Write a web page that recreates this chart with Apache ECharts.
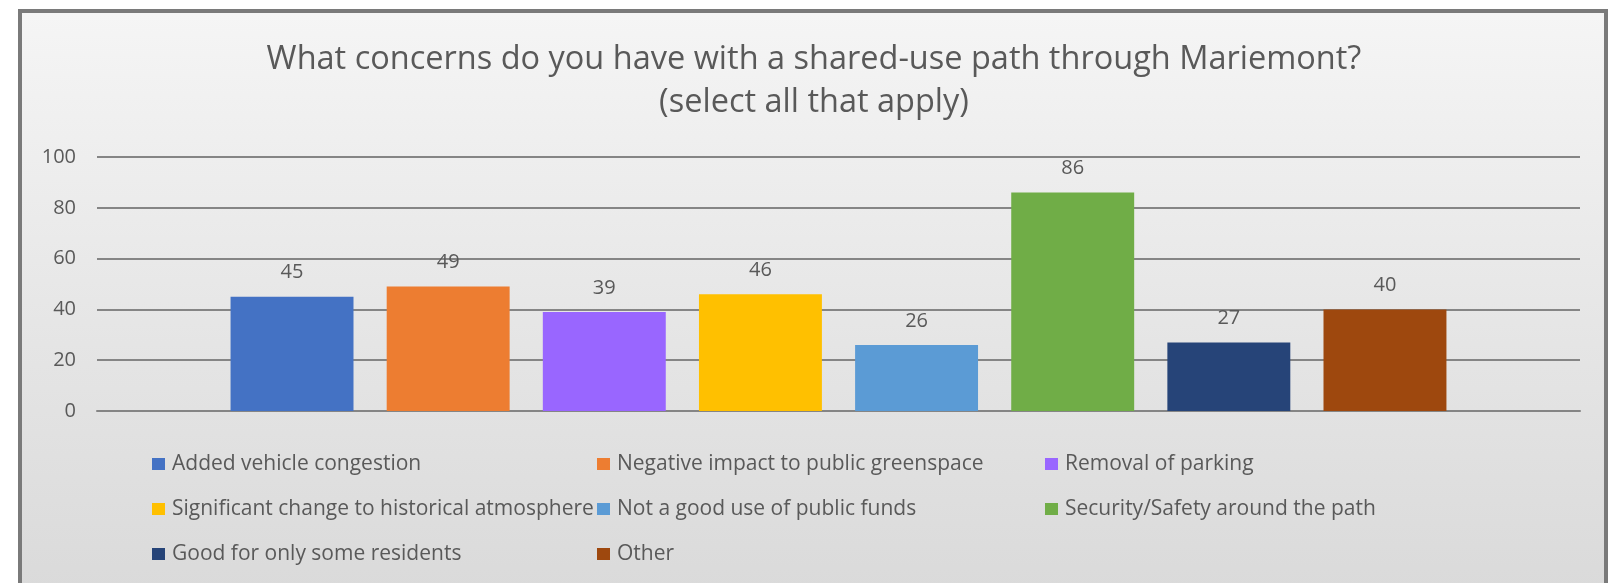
<!DOCTYPE html>
<html>
<head>
<meta charset="utf-8">
<script src="https://cdn.jsdelivr.net/npm/echarts@6/dist/echarts.min.js"></script>
<style>
  html, body { margin: 0; padding: 0; background: #ffffff; }
  #frame {
    position: absolute; left: 18px; top: 9px; width: 1582px; height: 600px;
    border: 4px solid #7a7a7a;
    background: linear-gradient(to bottom, #f5f5f5 0%, #e5e5e5 55%, #d9d9d9 100%);
  }
  #chart { position: absolute; left: 0; top: 0; width: 1610px; height: 583px; }
</style>
</head>
<body>
<div id="frame"></div>
<div id="chart"></div>
<script>
const titleText = 'What concerns do you have with a shared-use path through Mariemont?\n(select all that apply)';
const seriesNames = [
  'Added vehicle congestion',
  'Negative impact to public greenspace',
  'Removal of parking',
  'Significant change to historical atmosphere',
  'Not a good use of public funds',
  'Security/Safety around the path',
  'Good for only some residents',
  'Other'
];
const seriesValues = [45, 49, 39, 46, 26, 86, 27, 40];
const seriesColors = ['#4472C4', '#ED7D31', '#9966FF', '#FFC000', '#5B9BD5', '#70AD47', '#264478', '#9E480E'];
const yTicks = [0, 20, 40, 60, 80, 100];

const legendColumns = [
  [seriesNames[0], seriesNames[3], seriesNames[6]],
  [seriesNames[1], seriesNames[4], seriesNames[7]],
  [seriesNames[2], seriesNames[5]]
];
const legendLefts = [152, 597, 1045];

const FONT = "'Open Sans', sans-serif";
const chart = echarts.init(document.getElementById('chart'), null, { renderer: 'canvas' });

const option = {
  backgroundColor: 'transparent',
  animation: false,
  title: {
    text: titleText,
    left: 814,
    top: 38,
    textAlign: 'center',
    padding: 0,
    textStyle: { fontFamily: FONT, fontSize: 32.5, fontWeight: 'normal', color: '#595959', lineHeight: 43 }
  },
  legend: legendColumns.map((col, i) => ({
    data: col,
    orient: 'vertical',
    left: legendLefts[i],
    top: 452,
    padding: 0,
    icon: 'rect',
    itemWidth: 13,
    itemHeight: 12,
    itemGap: 21,
    textStyle: { fontFamily: FONT, fontSize: 21, color: '#595959', lineHeight: 24, padding: [0, 0, 0, 2] }
  })),
  grid: { left: 97, right: 30, top: 157, bottom: 172 },
  xAxis: {
    type: 'category',
    data: [''],
    axisLine: { show: true, lineStyle: { color: '#858585', width: 2 } },
    axisTick: { show: false },
    axisLabel: { show: false }
  },
  yAxis: {
    type: 'value',
    min: yTicks[0],
    max: yTicks[yTicks.length - 1],
    interval: yTicks[1] - yTicks[0],
    axisLine: { show: false },
    axisTick: { show: false },
    axisLabel: { fontFamily: FONT, fontSize: 20, color: '#595959', margin: 21 },
    splitLine: { lineStyle: { color: '#858585', width: 2 } }
  },
  series: seriesNames.map((name, i) => ({
    name: name,
    type: 'bar',
    data: [seriesValues[i]],
    barWidth: '8.29%',
    barGap: '27%',
    itemStyle: { color: seriesColors[i] },
    label: {
      show: true,
      position: 'top',
      distance: 14,
      fontFamily: FONT,
      fontSize: 20,
      color: '#595959'
    }
  }))
};
chart.setOption(option);
</script>
</body>
</html>
